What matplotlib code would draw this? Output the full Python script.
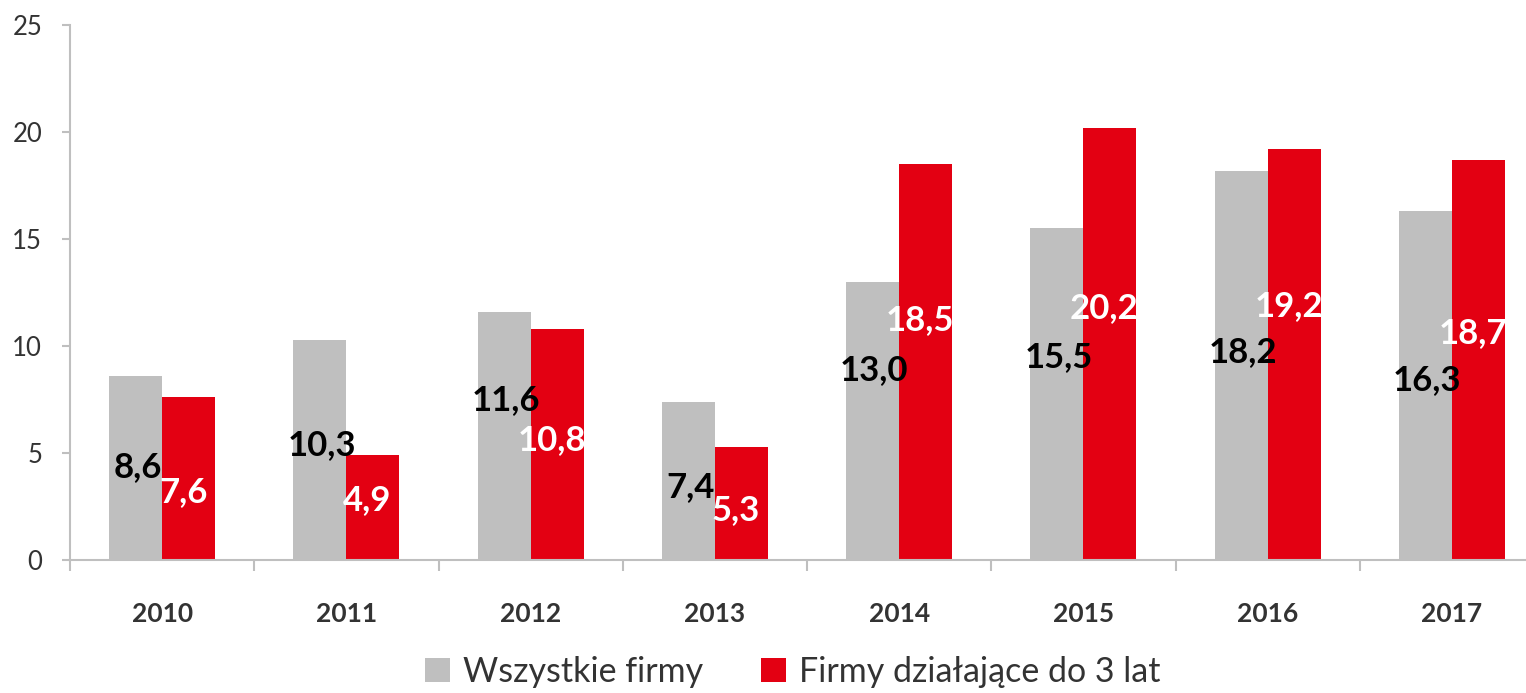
import matplotlib
matplotlib.use("Agg")
import matplotlib.pyplot as plt
from matplotlib.patches import Patch
import numpy as np

years = ["2010", "2011", "2012", "2013", "2014", "2015", "2016", "2017"]
wszystkie = [8.6, 10.3, 11.6, 7.4, 13.0, 15.5, 18.2, 16.3]
mlode = [7.6, 4.9, 10.8, 5.3, 18.5, 20.2, 19.2, 18.7]
labels_wszystkie = ["8,6", "10,3", "11,6", "7,4", "13,0", "15,5", "18,2", "16,3"]
labels_mlode = ["7,6", "4,9", "10,8", "5,3", "18,5", "20,2", "19,2", "18,7"]
series_names = ["Wszystkie firmy", "Firmy działające do 3 lat"]
yticks = [0, 5, 10, 15, 20, 25]

# label anchor heights (layout, data units) as seen in the reference
lab_y_w = [4.35, 5.37, 7.48, 3.41, 8.88, 9.49, 9.72, 8.41]
lab_y_m = [3.18, 2.80, 5.61, 2.34, 11.21, 11.78, 11.87, 10.61]

GRAY = "#BFBFBF"
RED = "#E30012"
TXT = "#333333"

plt.rcParams['font.family'] = ['Lato', 'DejaVu Sans']

fig = plt.figure(figsize=(15.26, 6.93), dpi=100)
ax = fig.add_axes([70/1526, 133/693, 1474/1526, 535/693])

x = np.arange(len(years))
w = 0.288
ax.bar(x - w/2, wszystkie, width=w, color=GRAY, label=series_names[0])
ax.bar(x + w/2, mlode, width=w, color=RED, label=series_names[1])

for i in range(len(years)):
    ax.text(x[i] - w/2 + 0.01, lab_y_w[i], labels_wszystkie[i], ha='center', va='center',
            fontsize=25, fontweight='bold', color='black')
    ax.text(x[i] + w/2 - 0.03, lab_y_m[i], labels_mlode[i], ha='center', va='center',
            fontsize=25, fontweight='bold', color='white')

ax.set_xlim(-0.5, 7.5)
ax.set_ylim(0, 25)
ax.set_yticks(yticks)
ax.set_yticklabels([str(t) for t in yticks], fontsize=18.5, color=TXT)
ax.set_xticks(x)
ax.set_xticklabels(years, fontsize=19, fontweight='bold', color=TXT)
ax.set_xticks(np.arange(-0.5, 8.0, 1.0), minor=True)
ax.tick_params(axis='x', which='major', length=0, pad=30)
ax.tick_params(axis='x', which='minor', length=8, width=1.5, color=GRAY)
ax.tick_params(axis='y', length=6, width=1.5, color=GRAY, pad=14)

for s in ['top', 'right']:
    ax.spines[s].set_visible(False)
for s in ['left', 'bottom']:
    ax.spines[s].set_color(GRAY)
    ax.spines[s].set_linewidth(1.5)

handles = [Patch(facecolor=GRAY), Patch(facecolor=RED)]
fig.legend(handles, series_names, loc='center', bbox_to_anchor=(793/1526, 1 - 672/693),
           ncol=2, frameon=False, fontsize=24.5, handlelength=0.72, handleheight=0.72,
           handletextpad=0.4, columnspacing=1.7, labelcolor=TXT, borderpad=0)

fig.savefig("out.png", dpi=100)
